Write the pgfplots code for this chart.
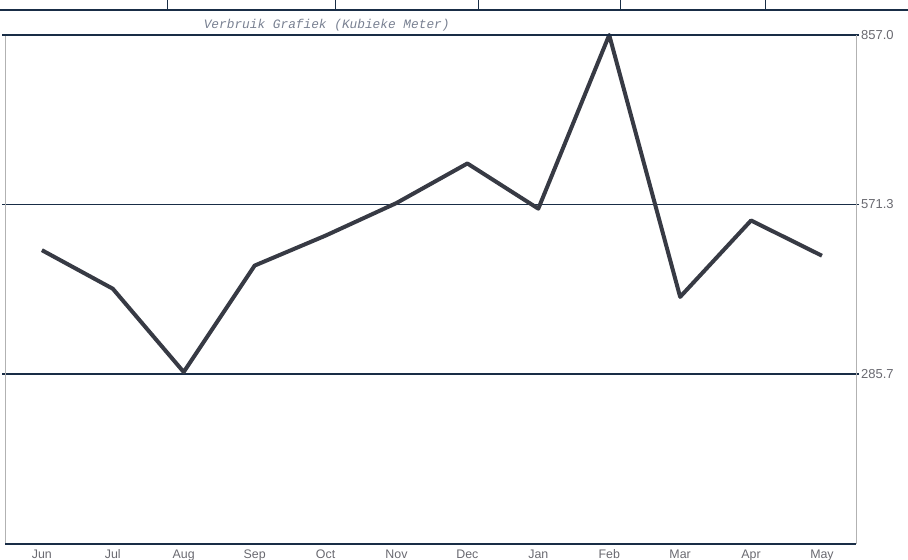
\documentclass[border=0pt]{standalone}
\usepackage{fontspec}
\setmainfont{Liberation Sans}
\setmonofont{Liberation Mono}
\usepackage{pgfplots}
\pgfplotsset{compat=1.18}
\definecolor{gridc}{RGB}{25,45,70}
\definecolor{linec}{RGB}{55,58,68}
\definecolor{labc}{RGB}{105,105,112}
\definecolor{titc}{RGB}{120,128,145}
\begin{document}
\begin{tikzpicture}
\begin{axis}[name=ax, at={(0,0)}, anchor=south west,
 scale only axis, width=425.5pt, height=254.25pt,
 xmin=-0.52, xmax=11.48, ymin=0, ymax=857,
 axis line style={draw=gray!60, line width=0.4pt},
 xtick={0,...,11},
 xticklabels={Jun,Jul,Aug,Sep,Oct,Nov,Dec,Jan,Feb,Mar,Apr,May},
 xtick style={draw=none},
 ytick={285.7,571.3,857.0}, yticklabels={285.7,571.3,857.0},
 yticklabel pos=right, ytick style={draw=gridc, line width=0.6pt},
 tick align=outside, major tick length=1.5pt,
 ymajorgrids, grid style={draw=gridc, line width=0.6pt},
 ticklabel style={font=\fontsize{6.5}{7}\selectfont, text=labc},
 yticklabel style={xshift=-2.5pt},
 xticklabel style={yshift=2pt, font=\fontsize{6.2}{7}\selectfont},
 /pgf/number format/assume math mode=true,
 clip=false,
]
\addplot[linec, line width=2pt, line join=round] coordinates {
 (0,494.4) (1,429.4) (2,289) (3,468.4) (4,518.9) (5,573.8)
 (6,640.5) (7,564.3) (8,857) (9,415.6) (10,544.4) (11,485)
};
\draw[gridc, line width=1pt] (rel axis cs:0,0) -- (rel axis cs:1,0);
\draw[gridc, line width=0.6pt] (rel axis cs:0,1) -- (rel axis cs:1,1);
\node[anchor=base, font=\ttfamily\itshape\fontsize{6.4}{7}\selectfont, text=titc, yshift=3pt] at (rel axis cs:0.378,1) {Verbruik Grafiek (Kubieke Meter)};
\end{axis}
\draw[gridc, line width=1pt] (-2.5pt,266.75pt) -- (451.5pt,266.75pt);
\foreach \x in {81,165,236.5,307.5,380} {
  \draw[gridc, line width=0.5pt] (\x pt,266.75pt) -- (\x pt,277pt);
}
\pgfresetboundingbox
\path[use as bounding box] (-2.5pt,-7.75pt) rectangle ++(454pt,279.5pt);
\end{tikzpicture}
\end{document}
